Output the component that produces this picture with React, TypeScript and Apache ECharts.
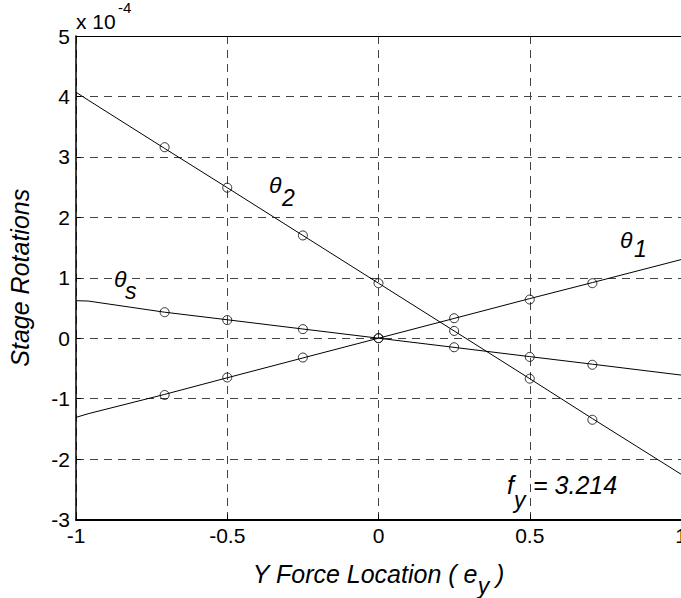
import React, { useEffect, useRef } from "react";
import * as echarts from "echarts";

// Model curves (values in units of 1e-4)
const lineX = [-1, -0.96, -0.707, -0.5, -0.25, 0, 0.25, 0.5, 0.707, 1];
const theta2Line = [4.07, 3.94, 3.14, 2.49, 1.70, 0.91, 0.12, -0.67, -1.33, -2.25];
const thetaSLine = [0.62, 0.615, 0.43, 0.305, 0.152, 0, -0.152, -0.305, -0.43, -0.61];
const theta1Line = [-1.31, -1.25, -0.93, -0.655, -0.327, 0, 0.327, 0.655, 0.92, 1.3];

// Measured points
const pointX = [-0.707, -0.5, -0.25, 0, 0.25, 0.5, 0.707];
const theta2Pts = [3.16, 2.49, 1.7, 0.91, 0.12, -0.67, -1.35];
const thetaSPts = [0.43, 0.3, 0.15, 0, -0.15, -0.31, -0.44];
const theta1Pts = [-0.94, -0.65, -0.32, 0, 0.33, 0.64, 0.91];

const yTicks = { min: -3, max: 5, interval: 1 };
const xTicks = { min: -1, max: 1, interval: 0.5 };

const FONT = "'Liberation Sans', Arial, Helvetica, sans-serif";

export default function App() {
  const ref = useRef<HTMLDivElement>(null);
  useEffect(() => {
    if (!ref.current) return;
    const chart = echarts.init(ref.current, null, { renderer: "svg" });
    const pair = (xs: number[], ys: number[]) => xs.map((x, i) => [x, ys[i]]);
    const lineSeries = (name: string, ys: number[]) => ({
      name,
      type: "line",
      data: pair(lineX, ys),
      showSymbol: false,
      symbol: "none",
      lineStyle: { color: "#000", width: 1 },
      silent: true,
      z: 3,
    });
    const ptSeries = (name: string, ys: number[]) => ({
      name,
      type: "scatter",
      data: pair(pointX, ys),
      symbol: "circle",
      symbolSize: 9,
      itemStyle: { color: "rgba(0,0,0,0)", borderColor: "#000", borderWidth: 1 },
      silent: true,
      z: 4,
    });
    const italic = (size: number) => `italic ${size}px ${FONT}`;
    const txt = (text: string, x: number, y: number, size: number, it = true) => ({
      type: "text",
      x,
      y,
      silent: true,
      z: 10,
      style: {
        text,
        fill: "#000",
        font: it ? italic(size) : `${size}px ${FONT}`,
        align: "left",
        verticalAlign: "middle",
      },
    });
    chart.setOption({
      animation: false,
      backgroundColor: "#fff",
      grid: { left: 76, top: 36, width: 605, height: 483.5, show: false, outerBoundsMode: "none", containLabel: false },
      xAxis: [
        {
          type: "value",
          ...xTicks,
          name: "Y Force Location ( e{sub|y} )",
          nameLocation: "middle",
          nameGap: 21,
          nameTextStyle: {
            fontFamily: FONT,
            fontSize: 25,
            fontStyle: "italic",
            color: "#000",
            lineHeight: 30,
            rich: {
              sub: {
                fontFamily: FONT,
                fontSize: 23,
                fontStyle: "italic",
                color: "#000",
                lineHeight: 30,
                padding: [24, 0, 0, 0],
              },
            },
          },
          axisLine: { show: true, onZero: false, lineStyle: { color: "#000", width: 2 } },
          axisTick: { show: true, inside: true, length: 5, lineStyle: { color: "#000", width: 1 } },
          axisLabel: { fontFamily: FONT, fontSize: 21, color: "#000", margin: 5, showMinLabel: true, showMaxLabel: true },
          splitLine: { show: true, lineStyle: { color: "#444", width: 1, type: [8, 6] } },
        },
        {
          type: "value",
          position: "top",
          ...xTicks,
          axisLine: { show: true, onZero: false, lineStyle: { color: "#000", width: 1 } },
          axisTick: { show: false },
          axisLabel: { show: false },
          splitLine: { show: false },
        },
      ],
      yAxis: {
        type: "value",
        ...yTicks,
        name: "Stage Rotations",
        nameLocation: "middle",
        nameGap: 44,
        nameTextStyle: { fontFamily: FONT, fontSize: 25, fontStyle: "italic", color: "#000" },
        axisLine: { show: true, onZero: false, lineStyle: { color: "#000", width: 1.5 } },
        axisTick: { show: true, inside: true, length: 5, lineStyle: { color: "#000", width: 1 } },
        axisLabel: { fontFamily: FONT, fontSize: 21, color: "#000", margin: 6 },
        splitLine: { show: true, lineStyle: { color: "#444", width: 1, type: [8, 6] } },
      },
      series: [
        lineSeries("θ2 model", theta2Line),
        lineSeries("θs model", thetaSLine),
        lineSeries("θ1 model", theta1Line),
        ptSeries("θ2", theta2Pts),
        ptSeries("θs", thetaSPts),
        ptSeries("θ1", theta1Pts),
      ],
      graphic: [
        txt("x 10", 76, 21.5, 21, false),
        txt("-4", 118, 7, 15, false),
        txt("θ", 269, 185, 23),
        txt("2", 282, 198, 23),
        txt("θ", 114, 279, 23),
        txt("s", 125, 291, 23),
        txt("θ", 620, 240, 23),
        txt("1", 634, 249, 23),
        txt("f", 507, 485, 25),
        txt("y", 514, 500, 23),
        txt("= 3.214", 533, 485, 25),
      ],
    });
    return () => chart.dispose();
  }, []);
  return (
    <div
      ref={ref}
      style={{ position: "fixed", left: 0, top: 0, width: 681, height: 598, background: "#fff" }}
    />
  );
}
